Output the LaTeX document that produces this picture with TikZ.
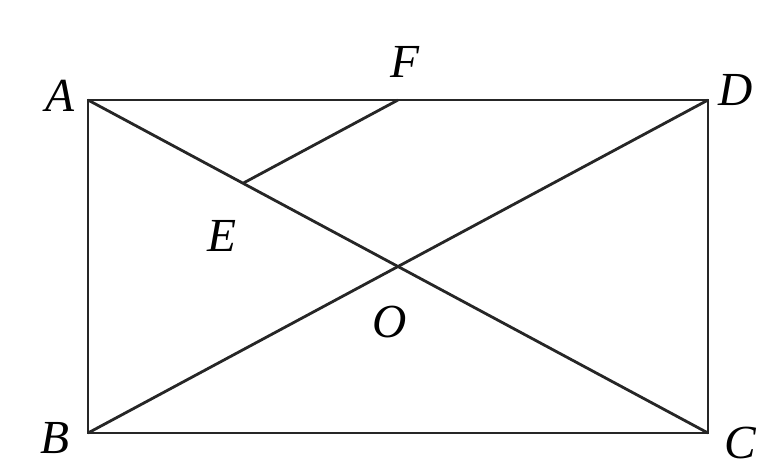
\documentclass[tikz,border=0pt]{standalone}
\usepackage{fontspec}
\setmainfont{Liberation Serif}
\usepackage{tikz}
\usetikzlibrary{calc}

\begin{document}
\begin{tikzpicture}[
    x=0.02cm, y=-0.02cm,
    edge/.style = {draw=black!85, line width=1.6pt},
    lbl/.style = {font=\fontsize{27}{30}\selectfont\itshape, inner sep=0pt}
]
    \useasboundingbox (0,0) rectangle (773,468);
    \coordinate (A) at (88,100);
    \coordinate (D) at (708,100);
    \coordinate (B) at (88,433);
    \coordinate (C) at (708,433);
    \coordinate (O) at ($(A)!0.5!(C)$);
    \coordinate (E) at ($(A)!0.5!(O)$);
    \coordinate (F) at ($(A)!0.5!(D)$);

    \path [edge] (A) -- (D) -- (C) -- (B) -- cycle;
    \path [edge] (A) -- (C);
    \path [edge] (B) -- (D);
    \path [edge] (E) -- (F);

    \node [lbl] (lA) at (60,96) {A};
    \node [lbl] (lF) at (405,62) {F};
    \node [lbl] (lD) at (736,90) {D};
    \node [lbl] (lE) at (222,236) {E};
    \node [lbl] (lO) at (390,322) {O};
    \node [lbl] (lB) at (55,438) {B};
    \node [lbl] (lC) at (740,443) {C};
\end{tikzpicture}
\end{document}
